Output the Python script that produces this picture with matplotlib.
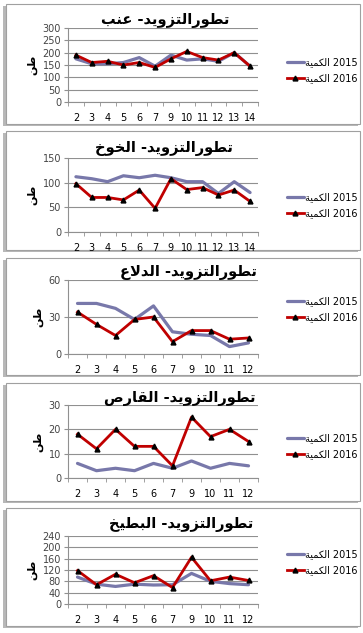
import matplotlib
matplotlib.use("Agg")
import matplotlib.pyplot as plt
from matplotlib.patches import Rectangle

plt.rcParams['font.family'] = ['DejaVu Sans']

# Arabic shaping (presentation forms) so matplotlib shows joined letters, right to left
FORMS = {
    'ا': (0xFE8D, 0xFE8E, None, None), 'ب': (0xFE8F, 0xFE90, 0xFE91, 0xFE92),
    'ة': (0xFE93, 0xFE94, None, None), 'ت': (0xFE95, 0xFE96, 0xFE97, 0xFE98),
    'ح': (0xFEA1, 0xFEA2, 0xFEA3, 0xFEA4), 'خ': (0xFEA5, 0xFEA6, 0xFEA7, 0xFEA8),
    'د': (0xFEA9, 0xFEAA, None, None), 'ر': (0xFEAD, 0xFEAE, None, None),
    'ز': (0xFEAF, 0xFEB0, None, None), 'ص': (0xFEB9, 0xFEBA, 0xFEBB, 0xFEBC),
    'ط': (0xFEC1, 0xFEC2, 0xFEC3, 0xFEC4), 'ع': (0xFEC9, 0xFECA, 0xFECB, 0xFECC),
    'ق': (0xFED5, 0xFED6, 0xFED7, 0xFED8), 'ك': (0xFED9, 0xFEDA, 0xFEDB, 0xFEDC),
    'ل': (0xFEDD, 0xFEDE, 0xFEDF, 0xFEE0), 'م': (0xFEE1, 0xFEE2, 0xFEE3, 0xFEE4),
    'ن': (0xFEE5, 0xFEE6, 0xFEE7, 0xFEE8), 'و': (0xFEED, 0xFEEE, None, None),
    'ي': (0xFEF1, 0xFEF2, 0xFEF3, 0xFEF4), 'لا': (0xFEFB, 0xFEFC, None, None),
}


def shape(text):
    # merge lam-alef
    units = []
    i = 0
    while i < len(text):
        if text[i] == 'ل' and i + 1 < len(text) and text[i + 1] == 'ا':
            units.append('لا')
            i += 2
        else:
            units.append(text[i])
            i += 1
    out = []
    for k, u in enumerate(units):
        if u not in FORMS:
            out.append(u)
            continue
        prev = units[k - 1] if k > 0 else None
        nxt = units[k + 1] if k + 1 < len(units) else None
        join_prev = prev in FORMS and FORMS[prev][2] is not None
        join_next = FORMS[u][2] is not None and nxt in FORMS
        if join_prev and join_next:
            f = FORMS[u][3]
        elif join_prev:
            f = FORMS[u][1]
        elif join_next:
            f = FORMS[u][2]
        else:
            f = FORMS[u][0]
        out.append(chr(f))
    return ''.join(out)[::-1]


# data
months_a = ['2', '3', '4', '5', '6', '7', '9', '10', '11', '12', '13', '14']
months_b = ['2', '3', '4', '5', '6', '7', '9', '10', '11', '12']

inab_2015 = [175, 155, 155, 160, 180, 145, 190, 170, 175, 165, 200, 145]
inab_2016 = [190, 160, 165, 150, 160, 140, 175, 205, 180, 170, 200, 145]

khokh_2015 = [112, 108, 102, 114, 110, 115, 110, 102, 102, 78, 102, 80]
khokh_2016 = [98, 70, 70, 65, 85, 48, 108, 86, 90, 75, 85, 62]

dellaa_2015 = [41, 41, 37, 28, 39, 18, 16, 15, 6, 9]
dellaa_2016 = [34, 24, 15, 28, 30, 10, 19, 19, 12, 13]

qares_2015 = [6, 3, 4, 3, 6, 4, 7, 4, 6, 5]
qares_2016 = [18, 12, 20, 13, 13, 5, 25, 17, 20, 15]

battikh_2015 = [95, 70, 62, 70, 67, 68, 108, 80, 72, 68]
battikh_2016 = [118, 68, 105, 75, 100, 58, 165, 82, 95, 83]

titles = ['تطورالتزويد- عنب', 'تطورالتزويد- الخوخ', 'تطورالتزويد- الدلاع',
          'تطورالتزويد- القارص', 'تطورالتزويد- البطيخ']
yticks_list = [[0, 50, 100, 150, 200, 250, 300], [0, 50, 100, 150], [0, 30, 60],
               [0, 10, 20, 30], [0, 40, 80, 120, 160, 200, 240]]
qty = 'الكمية'
unit = 'طن'

W, H = 363, 633
fig = plt.figure(figsize=(W / 100, H / 100), dpi=100)

# layout in pixels: panel box (top, bottom), plot area (top, bottom), title (x, y), legend y
panels = [(4, 124), (131, 250), (258, 375), (383, 501), (508, 626)]
plots = [(28, 102), (158, 232), (280, 354), (405, 478), (536, 604)]
title_pos = [(165, 20), (164, 148), (188, 273), (180, 398), (181, 525)]
legend_y = [70, 205, 309, 446, 562]

series = [
    (months_a, inab_2015, inab_2016),
    (months_a, khokh_2015, khokh_2016),
    (months_b, dellaa_2015, dellaa_2016),
    (months_b, qares_2015, qares_2016),
    (months_b, battikh_2015, battikh_2016),
]

for idx, (cats, s15, s16) in enumerate(series):
    ptop, pbot = panels[idx]
    # panel shadow + box
    fig.patches.append(Rectangle((3 / W, 1 - (pbot + 2) / H), 355 / W, (pbot - ptop) / H,
                                 transform=fig.transFigure, facecolor='#b8b8b8',
                                 edgecolor='none', zorder=0))
    fig.patches.append(Rectangle((6 / W, 1 - pbot / H), 354 / W, (pbot - ptop) / H,
                                 transform=fig.transFigure, facecolor='white',
                                 edgecolor='#a0a0a0', lw=0.8, zorder=0.5))

    atop, abot = plots[idx]
    ax = fig.add_axes([68 / W, 1 - abot / H, 190 / W, (abot - atop) / H])
    ax.set_zorder(2)
    ax.set_facecolor('none')
    x = list(range(len(cats)))
    l1, = ax.plot(x, s15, color='#7878aa', lw=2.3, solid_capstyle='round',
                  solid_joinstyle='round', zorder=3)
    l2, = ax.plot(x, s16, color='#c00000', lw=2.0, marker='^', markersize=3.5,
                  markerfacecolor='black', markeredgecolor='black', zorder=4)
    yt = yticks_list[idx]
    ax.set_ylim(yt[0], yt[-1])
    ax.set_yticks(yt)
    ax.set_xlim(-0.5, len(cats) - 0.5)
    ax.set_xticks(x)
    ax.set_xticklabels(cats)
    ax.set_xticks([i - 0.5 for i in range(len(cats) + 1)], minor=True)
    ax.tick_params(axis='x', which='major', length=0, labelsize=7, pad=8)
    ax.tick_params(axis='x', which='minor', length=3, color='#909090')
    ax.tick_params(axis='y', length=3, color='#909090', labelsize=7, pad=2)
    for lab in ax.get_yticklabels():
        lab.set_color('#444444')
    ax.grid(axis='y', color='#909090', lw=0.8)
    ax.set_axisbelow(True)
    for s in ['top', 'right']:
        ax.spines[s].set_visible(False)
    for s in ['left', 'bottom']:
        ax.spines[s].set_color('#909090')
        ax.spines[s].set_linewidth(0.8)
    ax.set_ylabel(shape(unit), fontsize=8, fontweight='bold', labelpad=4)

    tx, ty = title_pos[idx]
    fig.text(tx / W, 1 - ty / H, shape(titles[idx]), ha='center', va='center',
             fontsize=10.5, fontweight='bold', zorder=5)

    ax.legend([l1, l2], [shape(qty) + ' 2015', shape(qty) + ' 2016'],
              loc='center left', bbox_to_anchor=(287 / W, 1 - legend_y[idx] / H),
              bbox_transform=fig.transFigure, frameon=False, fontsize=7,
              handlelength=1.7, handletextpad=0.2, labelspacing=0.6,
              borderpad=0, borderaxespad=0)

fig.savefig('out.png', dpi=100)
